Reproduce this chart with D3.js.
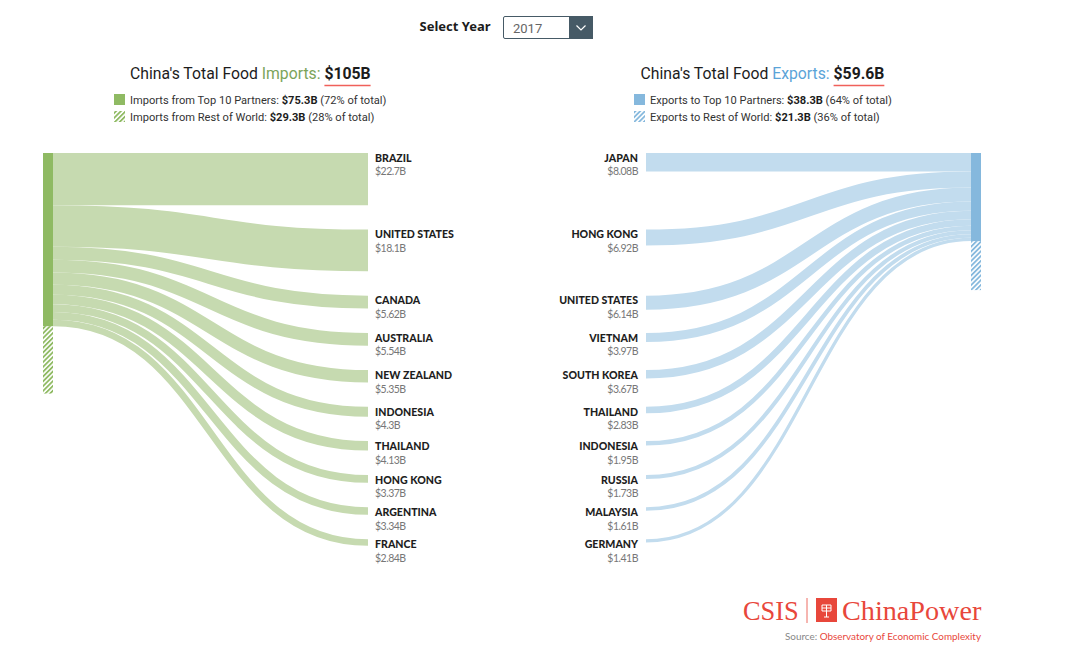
<!DOCTYPE html>
<html>
<head>
<meta charset="utf-8">
<script src="https://cdn.jsdelivr.net/npm/d3@7"></script>
<style>
  html, body { margin: 0; padding: 0; background: #fff; }
  svg { display: block; }
  text { font-family: Roboto, sans-serif; fill: #1c1c1c; }
  .name { font-family: Lato, sans-serif; font-weight: 900; font-size: 10.6px; fill: #1e1e1e; }
  .val { font-family: Lato, sans-serif; font-size: 10.5px; letter-spacing: -.5px; fill: #777; }
</style>
</head>
<body>
<svg id="chart" width="1080" height="670"></svg>
<script>
const importNames = ["BRAZIL", "UNITED STATES", "CANADA", "AUSTRALIA", "NEW ZEALAND", "INDONESIA", "THAILAND", "HONG KONG", "ARGENTINA", "FRANCE"]
const importValues = [22.7, 18.1, 5.62, 5.54, 5.35, 4.3, 4.13, 3.37, 3.34, 2.84]
const importLabels = ["$22.7B", "$18.1B", "$5.62B", "$5.54B", "$5.35B", "$4.3B", "$4.13B", "$3.37B", "$3.34B", "$2.84B"]
const importRest = 29.3

const exportNames = ["JAPAN", "HONG KONG", "UNITED STATES", "VIETNAM", "SOUTH KOREA", "THAILAND", "INDONESIA", "RUSSIA", "MALAYSIA", "GERMANY"]
const exportValues = [8.08, 6.92, 6.14, 3.97, 3.67, 2.83, 1.95, 1.73, 1.61, 1.41]
const exportLabels = ["$8.08B", "$6.92B", "$6.14B", "$3.97B", "$3.67B", "$2.83B", "$1.95B", "$1.73B", "$1.61B", "$1.41B"]
const exportRest = 21.3

const COLORS = {
  green: "#8fba63", greenLink: "#c6dab0", greenText: "#7ba45a",
  blue: "#85b8dd", blueLink: "#c2dcee", blueText: "#5ba4d8",
  red: "#e8473b", slate: "#465a66"
}

const TOP = 153, GAP = 24.4, NODE_W = 10
const h = d3.scaleLinear().domain([0, 1]).range([0, 2.3])
const svg = d3.select("#chart")
const defs = svg.append("defs")

function hatch(id, color) {
  const p = defs.append("pattern").attr("id", id)
    .attr("width", 3.4).attr("height", 3.4)
    .attr("patternUnits", "userSpaceOnUse")
    .attr("patternTransform", "rotate(45)")
  p.append("rect").attr("width", 1.8).attr("height", 3.4).attr("fill", color)
}
hatch("hatch-green", COLORS.green)
hatch("hatch-blue", COLORS.blue)

// row positions come from the imports column, exports sit on the same rows
const rowTops = []
importValues.reduce((y, v) => { rowTops.push(y); return y + h(v) + GAP }, TOP)

const link = d3.linkHorizontal().x(d => d[0]).y(d => d[1])

function drawSide(o) {
  const g = svg.append("g")
  let stack = TOP
  const links = o.values.map((v, i) => {
    const w = h(v)
    const d = { w, from: [o.nodeEdge, stack + w / 2], to: [o.rowEdge, rowTops[i] + w / 2] }
    stack += w
    return d
  })

  g.selectAll("path.link").data(links).join("path")
    .attr("class", "link")
    .attr("fill", "none")
    .attr("stroke", o.linkColor)
    .attr("stroke-width", d => d.w)
    .attr("d", d => link({ source: d.from, target: d.to }))

  g.append("rect").attr("x", o.nodeX).attr("y", TOP)
    .attr("width", NODE_W).attr("height", stack - TOP).attr("fill", o.color)
  g.append("rect").attr("x", o.nodeX).attr("y", stack)
    .attr("width", NODE_W).attr("height", h(o.rest)).attr("fill", `url(#${o.hatch})`)

  const rows = g.selectAll("g.row").data(o.names).join("g").attr("class", "row")
  rows.append("text").attr("class", "name")
    .attr("x", o.labelX).attr("y", (d, i) => rowTops[i] + 8.8)
    .attr("text-anchor", o.anchor).text(d => d)
  rows.append("text").attr("class", "val")
    .attr("x", o.labelX).attr("y", (d, i) => rowTops[i] + 22.4)
    .attr("text-anchor", o.anchor).text((d, i) => o.labels[i])
}

drawSide({ values: importValues, names: importNames, labels: importLabels, rest: importRest,
  nodeX: 43, nodeEdge: 53, rowEdge: 368, labelX: 375, anchor: "start",
  color: COLORS.green, linkColor: COLORS.greenLink, hatch: "hatch-green" })

drawSide({ values: exportValues, names: exportNames, labels: exportLabels, rest: exportRest,
  nodeX: 971, nodeEdge: 971, rowEdge: 646, labelX: 638, anchor: "end",
  color: COLORS.blue, linkColor: COLORS.blueLink, hatch: "hatch-blue" })

function header(o) {
  const t = svg.append("text").attr("x", o.x).attr("y", 79).style("font-size", "15.75px")
  t.append("tspan").text("China's Total Food ")
  t.append("tspan").style("fill", o.textColor).text(o.word + ": ")
  const total = t.append("tspan").style("font-weight", 700).text(o.total)

  const start = total.node().getStartPositionOfChar(0).x
  svg.append("line").attr("x1", start).attr("x2", start + total.node().getComputedTextLength())
    .attr("y1", 85.5).attr("y2", 85.5).attr("stroke", "#f0605a").attr("stroke-width", 1.4)

  o.legend.forEach((l, i) => {
    svg.append("rect").attr("x", o.swatchX).attr("y", 94 + i * 17)
      .attr("width", 11).attr("height", 11)
      .attr("fill", i ? `url(#${o.hatch})` : o.color)
    const lt = svg.append("text").attr("x", o.swatchX + 16).attr("y", 103.5 + i * 17).style("font-size", "11.1px").style("fill", "#333")
    lt.append("tspan").text(l[0] + " ")
    lt.append("tspan").style("font-weight", 700).style("fill", "#1c1c1c").text(l[1])
    lt.append("tspan").text(" " + l[2])
  })
}

header({ x: 130, word: "Imports", total: "$105B", textColor: COLORS.greenText, swatchX: 114,
  color: COLORS.green, hatch: "hatch-green",
  legend: [["Imports from Top 10 Partners:", "$75.3B", "(72% of total)"],
           ["Imports from Rest of World:", "$29.3B", "(28% of total)"]] })

header({ x: 640.5, word: "Exports", total: "$59.6B", textColor: COLORS.blueText, swatchX: 634,
  color: COLORS.blue, hatch: "hatch-blue",
  legend: [["Exports to Top 10 Partners:", "$38.3B", "(64% of total)"],
           ["Exports to Rest of World:", "$21.3B", "(36% of total)"]] })

// year selector
svg.append("text").attr("x", 419.5).attr("y", 31)
  .style("font-family", "'Noto Sans', sans-serif").style("font-weight", 700).style("font-size", "13px")
  .text("Select Year")
svg.append("rect").attr("x", 503.5).attr("y", 16.5).attr("width", 89).attr("height", 22).attr("rx", 1.5)
  .attr("fill", "#fff").attr("stroke", COLORS.slate)
svg.append("rect").attr("x", 569).attr("y", 16).attr("width", 24).attr("height", 23).attr("fill", COLORS.slate)
svg.append("path").attr("d", "M576.5 25.5 L581 30 L585.5 25.5").attr("fill", "none").attr("stroke", "#fff").attr("stroke-width", 1.2)
svg.append("text").attr("x", 513).attr("y", 32.5).style("font-size", "13px").style("fill", "#666").text("2017")

// logo and source
const serif = "'Liberation Serif', serif"
svg.append("text").attr("x", 743).attr("y", 620).style("font-family", serif).style("font-size", "26.4px").style("fill", COLORS.red).text("CSIS")
svg.append("line").attr("x1", 807).attr("x2", 807).attr("y1", 598).attr("y2", 623).attr("stroke", COLORS.red).attr("stroke-width", .8)
svg.append("rect").attr("x", 816).attr("y", 598).attr("width", 21).attr("height", 24).attr("fill", COLORS.red)
svg.append("path").attr("d", "M822 605 H831 V611 H822 Z M826.5 605 V617 M822 608 H831 M824 617 H829")
  .attr("fill", "none").attr("stroke", "#fff").attr("stroke-width", 1)
svg.append("text").attr("x", 842).attr("y", 620).style("font-family", serif).style("font-size", "28.2px").style("fill", COLORS.red).text("ChinaPower")

const src = svg.append("text").attr("x", 981).attr("y", 640).attr("text-anchor", "end")
  .style("font-family", "Lato, sans-serif").style("font-size", "9.9px")
src.append("tspan").style("fill", "#888").text("Source: ")
src.append("tspan").style("fill", COLORS.red).text("Observatory of Economic Complexity")
</script>
</body>
</html>
